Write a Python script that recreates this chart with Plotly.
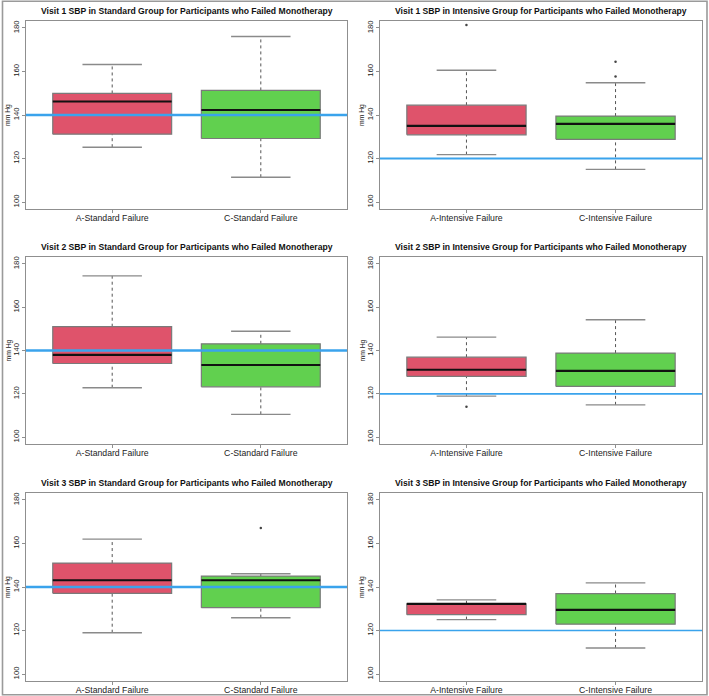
import plotly.graph_objects as go

# ---------------- data ----------------
titles = [
    "Visit 1 SBP in Standard Group for Participants who Failed Monotherapy",
    "Visit 1 SBP in Intensive Group for Participants who Failed Monotherapy",
    "Visit 2 SBP in Standard Group for Participants who Failed Monotherapy",
    "Visit 2 SBP in Intensive Group for Participants who Failed Monotherapy",
    "Visit 3 SBP in Standard Group for Participants who Failed Monotherapy",
    "Visit 3 SBP in Intensive Group for Participants who Failed Monotherapy",
]
std_labels = ["A-Standard Failure", "C-Standard Failure"]
int_labels = ["A-Intensive Failure", "C-Intensive Failure"]
panel_labels = [std_labels, int_labels, std_labels, int_labels, std_labels, int_labels]

# per panel: [group A, group C]
whisker_low = [[125.2, 111.4], [121.8, 115.0], [122.8, 110.5], [118.9, 114.9], [119.0, 125.9], [125.0, 112.0]]
q1_vals     = [[131.2, 129.2], [130.9, 128.8], [134.0, 123.2], [128.0, 123.4], [137.1, 130.5], [127.3, 122.9]]
median_vals = [[146.2, 142.3], [135.0, 135.9], [138.0, 133.3], [131.1, 130.6], [143.1, 143.1], [132.2, 129.5]]
q3_vals     = [[149.9, 151.3], [144.5, 139.5], [151.0, 143.1], [136.9, 138.8], [151.0, 145.0], [132.3, 137.0]]
whisker_high= [[163.2, 176.1], [160.6, 154.8], [174.5, 148.9], [146.2, 154.2], [162.0, 146.1], [134.1, 141.9]]
outliers    = [[[], []], [[181.4], [157.7, 164.5]], [[], []], [[114.0], []], [[], [167.1]], [[], []]]
reference_sbp = [140, 120, 140, 120, 140, 120]

y_ticks = [100, 120, 140, 160, 180]
y_label = "mm Hg"

# ---------------- styling ----------------
W, H = 709, 696
FONT = "Liberation Sans, Arial, sans-serif"
box_colors = ["#DF536B", "#61D04F"]
ref_color = "#3AA3EC"
ref_widths = [2.6, 2.0, 2.6, 1.7, 2.4, 1.3]
frame_color = "#8f8f8f"
boxwex = 0.8
staple = 0.2

col_px = [(26, 347), (380, 702)]
row_px = [(21, 209), (257, 444), (493, 681)]

fig = go.Figure()
layout = dict(
    width=W, height=H, margin=dict(l=0, r=0, t=0, b=0),
    paper_bgcolor="white", plot_bgcolor="white", showlegend=False,
    font=dict(family=FONT, color="#222"),
)
annotations = []

for i in range(6):
    r, c = divmod(i, 2)
    n = "" if i == 0 else str(i + 1)
    xa, ya = "x" + n, "y" + n
    x0p, x1p = col_px[c]
    y0p, y1p = row_px[r]
    layout["xaxis" + n] = dict(
        domain=[x0p / W, x1p / W], anchor=ya, range=[0.42, 2.58],
        tickmode="array", tickvals=[1, 2], ticktext=panel_labels[i],
        ticks="outside", ticklen=3, tickcolor=frame_color, tickwidth=1,
        ticklabelstandoff=-3,
        showline=True, linecolor=frame_color, linewidth=1.2, mirror=True,
        showgrid=False, zeroline=False, fixedrange=True,
        tickfont=dict(size=8.7, color="#222", family=FONT),
    )
    layout["yaxis" + n] = dict(
        domain=[1 - y1p / H, 1 - y0p / H], anchor=xa, range=[96.8, 183.2],
        tickmode="array", tickvals=y_ticks, ticktext=[str(v) for v in y_ticks],
        tickangle=-90, ticks="outside", ticklen=3, tickcolor=frame_color, tickwidth=1,
        showline=True, linecolor=frame_color, linewidth=1.2, mirror=True,
        showgrid=False, zeroline=False, fixedrange=True,
        tickfont=dict(size=7.8, color="#222", family=FONT),
    )
    plot_w = x1p - x0p
    plot_h = y1p - y0p
    annotations.append(dict(
        text="<b>" + titles[i] + "</b>", xref=xa + " domain", yref=ya + " domain",
        x=0.5, y=1 + 10 / plot_h, xanchor="center", yanchor="middle",
        showarrow=False, font=dict(size=8.6, color="#111", family=FONT),
    ))
    annotations.append(dict(
        text=y_label, xref=xa + " domain", yref=ya + " domain",
        x=-18 / plot_w, y=0.5, xanchor="center", yanchor="middle", textangle=-90,
        showarrow=False, font=dict(size=6.8, color="#222", family=FONT),
    ))

    for g in range(2):
        pos = g + 1
        lo, q1, med, q3, hi = (whisker_low[i][g], q1_vals[i][g], median_vals[i][g],
                               q3_vals[i][g], whisker_high[i][g])
        # dotted whiskers
        fig.add_trace(go.Scatter(x=[pos, pos, None, pos, pos], y=[lo, q1, None, q3, hi],
                                 mode="lines", line=dict(color="#555", width=1, dash="dot"),
                                 xaxis=xa, yaxis=ya, hoverinfo="skip"))
        # staples
        fig.add_trace(go.Scatter(x=[pos - staple, pos + staple, None, pos - staple, pos + staple],
                                 y=[lo, lo, None, hi, hi], mode="lines",
                                 line=dict(color="#8a8a8a", width=1.4),
                                 xaxis=xa, yaxis=ya, hoverinfo="skip"))
        # box
        h = boxwex / 2
        fig.add_trace(go.Scatter(x=[pos - h, pos + h, pos + h, pos - h, pos - h],
                                 y=[q1, q1, q3, q3, q1], mode="lines", fill="toself",
                                 fillcolor=box_colors[g], line=dict(color="#7a7a7a", width=1.2),
                                 xaxis=xa, yaxis=ya, hoverinfo="skip"))
        # median
        fig.add_trace(go.Scatter(x=[pos - h, pos + h], y=[med, med], mode="lines",
                                 line=dict(color="#111", width=2.2),
                                 xaxis=xa, yaxis=ya, hoverinfo="skip"))
        # outliers
        if outliers[i][g]:
            fig.add_trace(go.Scatter(x=[pos] * len(outliers[i][g]), y=outliers[i][g],
                                     mode="markers", marker=dict(color="#444", size=2.5),
                                     xaxis=xa, yaxis=ya, hoverinfo="skip"))
    # reference line
    fig.add_trace(go.Scatter(x=[0.42, 2.58], y=[reference_sbp[i]] * 2, mode="lines",
                             line=dict(color=ref_color, width=ref_widths[i]),
                             xaxis=xa, yaxis=ya, hoverinfo="skip"))

layout["annotations"] = annotations
layout["shapes"] = [dict(type="rect", xref="paper", yref="paper",
                         x0=2.5 / W, x1=1 - 2 / W, y0=1.2 / H, y1=1 - 1.2 / H,
                         line=dict(color="#9a9a9a", width=1.6), fillcolor="rgba(0,0,0,0)")]
fig.update_layout(**layout)
fig.write_html("out.html", config={"displayModeBar": False},
               post_script="document.body.style.margin='0px';document.body.style.overflow='hidden';")
